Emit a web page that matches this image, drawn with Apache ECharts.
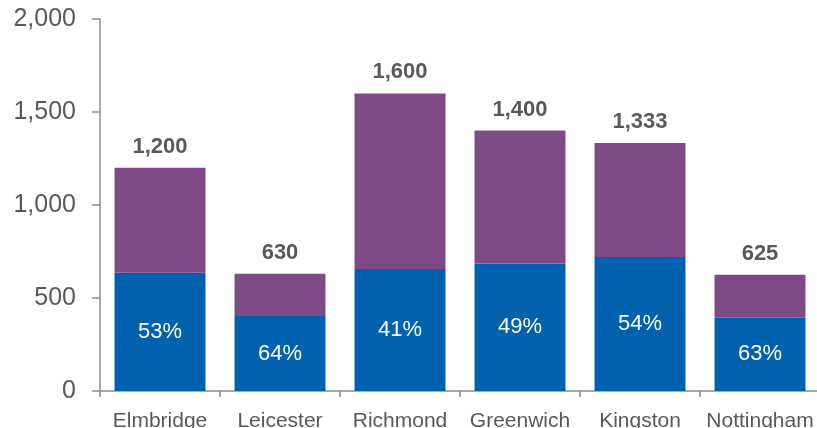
<!DOCTYPE html>
<html>
<head>
<meta charset="utf-8">
<script src="https://cdn.jsdelivr.net/npm/echarts@6/dist/echarts.min.js"></script>
<style>
  html, body { margin: 0; padding: 0; background: #fff; }
  #chart { width: 817px; height: 428px; }
</style>
</head>
<body>
<div id="chart"></div>
<script>
// Areas, their totals and the share held by the lower segment (%)
const categories = ['Elmbridge', 'Leicester', 'Richmond', 'Greenwich', 'Kingston', 'Nottingham'];
const totals = [1200, 630, 1600, 1400, 1333, 625];
const sharePct = [53, 64, 41, 49, 54, 63];
const yTicks = [0, 500, 1000, 1500, 2000];

const lower = totals.map((t, i) => t * sharePct[i] / 100);
const upper = totals.map((t, i) => t - lower[i]);

const fmt = v => v.toLocaleString('en-US');
const font = '"Liberation Sans", Arial, sans-serif';
const grey = '#595959';

const chart = echarts.init(document.getElementById('chart'));
chart.setOption({
  animation: false,
  grid: { left: 100, right: -3, top: 19, bottom: 37, containLabel: false, outerBoundsMode: 'none' },
  xAxis: {
    type: 'category',
    data: categories,
    axisLine: { lineStyle: { color: '#8c8c8c', width: 1.5 } },
    axisTick: { show: true, length: 6, lineStyle: { color: '#8c8c8c', width: 1.5 } },
    axisLabel: { interval: 0, color: grey, fontFamily: font, fontSize: 21, margin: 20 }
  },
  yAxis: {
    type: 'value',
    min: yTicks[0],
    max: yTicks[yTicks.length - 1],
    interval: 500,
    splitLine: { show: false },
    axisLine: { show: true, lineStyle: { color: '#8c8c8c', width: 1.5 } },
    axisTick: { show: true, length: 8, lineStyle: { color: '#8c8c8c', width: 1.5 } },
    axisLabel: { color: grey, fontFamily: font, fontSize: 25, margin: 24, formatter: v => fmt(v) }
  },
  series: [
    {
      type: 'bar',
      stack: 'total',
      data: lower,
      barWidth: 91,
      itemStyle: { color: '#0061AE' },
      label: {
        show: true,
        position: 'inside',
        color: '#ffffff',
        fontFamily: font,
        fontSize: 22,
        formatter: p => sharePct[p.dataIndex] + '%'
      }
    },
    {
      type: 'bar',
      stack: 'total',
      data: upper,
      barWidth: 91,
      itemStyle: { color: '#7D4A87' },
      label: {
        show: true,
        position: 'top',
        distance: 10,
        color: grey,
        fontFamily: font,
        fontSize: 22,
        fontWeight: 'bold',
        formatter: p => fmt(totals[p.dataIndex])
      }
    }
  ]
});
</script>
</body>
</html>
